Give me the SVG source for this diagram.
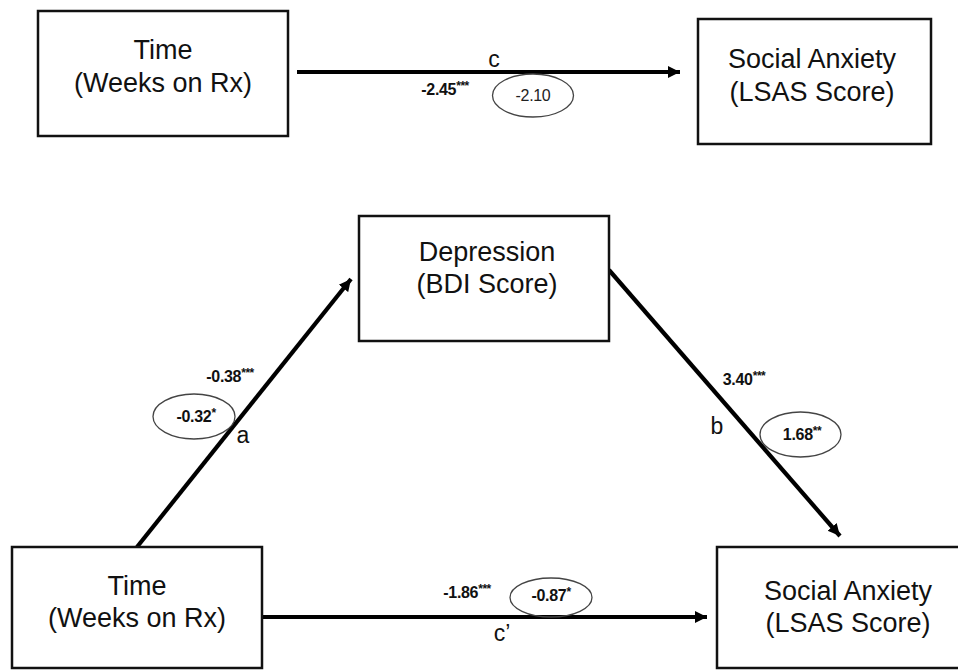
<svg xmlns="http://www.w3.org/2000/svg" width="958" height="671" viewBox="0 0 958 671">
<style>
.box{fill:#fff;stroke:#111;stroke-width:2.5}
.lbl{font-family:"Liberation Sans",Arial,sans-serif;font-size:27px;fill:#111;text-anchor:middle}
.edge{stroke:#000;stroke-width:4.2;fill:none}
.coef{font-family:"Liberation Sans",Arial,sans-serif;font-size:16px;font-weight:bold;fill:#111;text-anchor:middle;letter-spacing:-0.3px}
.coefn{font-family:"Liberation Sans",Arial,sans-serif;font-size:16px;fill:#222;text-anchor:middle;letter-spacing:-0.3px}
.sup{font-size:12px;letter-spacing:-0.5px}
.path{font-family:"Liberation Sans",Arial,sans-serif;font-size:23px;fill:#111;text-anchor:middle}
.ell{fill:none;stroke:#444;stroke-width:1.3}
</style>
<defs>
<marker id="ah" markerUnits="userSpaceOnUse" markerWidth="14" markerHeight="14" viewBox="0 0 14 14" refX="12" refY="7" orient="auto">
<path d="M0,1 L12,7 L0,13 Z" fill="#000"/>
</marker>
</defs>
<rect width="958" height="671" fill="#fff"/>
<g id="connectors">
<line class="edge" x1="297" y1="72" x2="680" y2="72" marker-end="url(#ah)"/>
<line class="edge" x1="137" y1="547" x2="351" y2="279" marker-end="url(#ah)"/>
<line class="edge" x1="609" y1="270" x2="840" y2="536" marker-end="url(#ah)"/>
<line class="edge" x1="262" y1="617" x2="707" y2="617" marker-end="url(#ah)"/>
<text class="path" x="494" y="67">c</text>
<text class="coef" x="445" y="95">-2.45<tspan class="sup" dy="-5">***</tspan></text>
<ellipse class="ell" cx="533" cy="95.5" rx="40.5" ry="21.5"/>
<text class="coefn" x="533" y="101">-2.10</text>
<text class="coef" x="230" y="382">-0.38<tspan class="sup" dy="-5">***</tspan></text>
<ellipse class="ell" cx="194" cy="416.5" rx="41" ry="22.5"/>
<text class="coef" x="196" y="422">-0.32<tspan class="sup" dy="-5">*</tspan></text>
<text class="path" x="243" y="443">a</text>
<text class="coef" x="744" y="385">3.40<tspan class="sup" dy="-5">***</tspan></text>
<text class="path" x="717" y="434">b</text>
<ellipse class="ell" cx="800.5" cy="434.5" rx="40.5" ry="22.5"/>
<text class="coef" x="802" y="440">1.68<tspan class="sup" dy="-5">**</tspan></text>
<text class="coef" x="467" y="598">-1.86<tspan class="sup" dy="-5">***</tspan></text>
<ellipse class="ell" cx="551" cy="597.5" rx="41" ry="19.5"/>
<text class="coef" x="551" y="601">-0.87<tspan class="sup" dy="-5">*</tspan></text>
<text class="path" x="502" y="641">c’</text>
</g>
<g id="time-top">
<rect class="box" x="38" y="11" width="250" height="125"/>
<text class="lbl" x="163" y="59">Time</text>
<text class="lbl" x="163" y="92">(Weeks on Rx)</text>
</g>
<g id="anxiety-top">
<rect class="box" x="698" y="19" width="233" height="125"/>
<text class="lbl" x="812" y="68">Social Anxiety</text>
<text class="lbl" x="812" y="101">(LSAS Score)</text>
</g>
<g id="depression">
<rect class="box" x="359" y="216" width="250" height="125"/>
<text class="lbl" x="487" y="261">Depression</text>
<text class="lbl" x="487" y="293">(BDI Score)</text>
</g>
<g id="time-bottom">
<rect class="box" x="12" y="547" width="250" height="121"/>
<text class="lbl" x="137" y="595">Time</text>
<text class="lbl" x="137" y="627">(Weeks on Rx)</text>
</g>
<g id="anxiety-bottom">
<rect class="box" x="717" y="547" width="260" height="121"/>
<text class="lbl" x="848" y="600">Social Anxiety</text>
<text class="lbl" x="848" y="632">(LSAS Score)</text>
</g>
</svg>
